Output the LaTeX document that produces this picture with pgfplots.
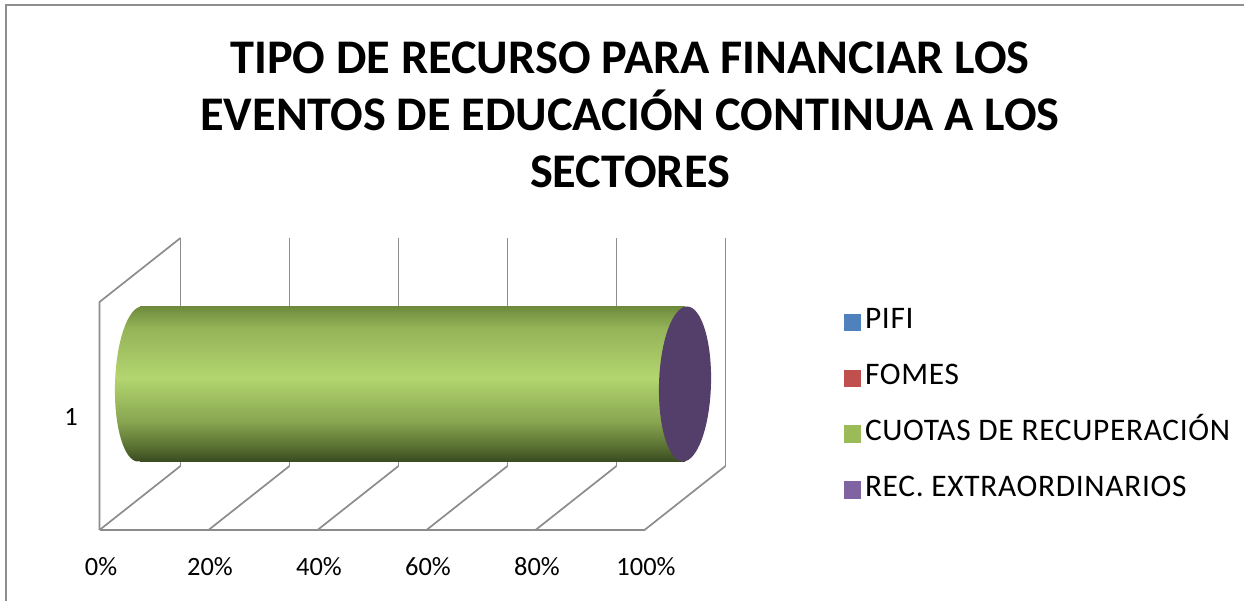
\documentclass[border=0pt]{standalone}
\usepackage{pgfplots}
\pgfplotsset{compat=1.18}
\usepackage{fontspec}
\setmainfont{Carlito}
\definecolor{pifi}{HTML}{4F81BD}
\definecolor{fomes}{HTML}{C0504D}
\definecolor{cuotas}{HTML}{9BBB59}
\definecolor{rec}{HTML}{8064A2}
\definecolor{recdark}{HTML}{543F6B}
\definecolor{gridc}{HTML}{8C8C8C}
\definecolor{frame}{HTML}{8E8E8E}
\definecolor{c0}{HTML}{3A4A21}
\definecolor{c1}{HTML}{5A7232}
\definecolor{c2}{HTML}{88A651}
\definecolor{c3}{HTML}{B3D56F}
\definecolor{c4}{HTML}{95B358}
\definecolor{c5}{HTML}{6E8B3D}
\pgfdeclareverticalshading{cyl}{100bp}{color(0bp)=(c0); color(25bp)=(c0); color(30bp)=(c1); color(38bp)=(c2); color(52bp)=(c3); color(68bp)=(c4); color(75bp)=(c5); color(100bp)=(c5)}
\pgfdeclareplotmark{leftcap}{%
  \pgfpathellipse{\pgfpointorigin}{\pgfqpoint{25bp}{0bp}}{\pgfqpoint{2bp}{77.5bp}}%
  \pgfshadepath{cyl}{0}%
  \pgfusepath{discard}}
\pgfdeclareplotmark{reccap}{%
  \pgfpathellipse{\pgfpointorigin}{\pgfqpoint{26bp}{0bp}}{\pgfqpoint{2bp}{77.5bp}}%
  \pgfsetfillcolor{recdark}%
  \pgfusepath{fill}}
\newcommand{\legsq}[1]{\pgfpathrectangle{\pgfqpoint{0bp}{-8.75bp}}{\pgfqpoint{17.5bp}{17.5bp}}\pgfsetfillcolor{#1}\pgfusepath{fill}}
\begin{document}
\begin{tikzpicture}
\useasboundingbox (0,0) rectangle (1244bp,601bp);
\draw[color=frame, line width=2bp] (6bp,-20bp) -- (6bp,596bp) -- (1270bp,596bp);
\node[font=\bfseries\fontsize{48.5}{57}\selectfont, align=center] at (630bp,486bp) {TIPO DE RECURSO PARA FINANCIAR LOS\\EVENTOS DE EDUCACIÓN CONTINUA A LOS\\SECTORES};
% 3-D frame (walls and floor) behind the axis plane
\foreach \k in {0,...,5}{
  \draw[gridc, line width=1.7bp] ({180.5bp+109bp*\k},135bp) -- ({180.5bp+109bp*\k},363bp);
  \draw[gridc, line width=1.7bp] ({99.5bp+109bp*\k},71bp) -- ({180.5bp+109bp*\k},135bp);
}
\draw[gridc, line width=1.7bp] (99.5bp,71bp) -- (644.5bp,71bp);
\draw[gridc, line width=1.7bp] (99.5bp,71bp) -- (99.5bp,299bp) -- (180.5bp,363bp);
\begin{axis}[
  at={(140bp,103bp)}, anchor=south west,
  scale only axis, width=545bp, height=228bp,
  xmin=0, xmax=100, ymin=0.5, ymax=1.5,
  stack plots=x, bar width=155bp,
  clip=false,
  axis line style={draw=none},
  major tick length=0pt,
  xtick={0,20,40,60,80,100},
  xticklabels={0\%,20\%,40\%,60\%,80\%,100\%},
  ytick={1}, yticklabels={1},
  ticklabel style={font=\fontsize{26.5}{31}\selectfont},
  xticklabel style={anchor=center, xshift=-39bp, yshift=-69bp},
  yticklabel style={anchor=center, xshift=-69bp, yshift=-33bp},
  legend style={at={(1.285,0.852)}, anchor=north west, draw=none, fill=none,
    font=\fontsize{31.5}{38}\selectfont\addfontfeature{LetterSpace=2.2}, row sep=22.9bp,
    nodes={text height=19bp, text depth=6bp, inner sep=4bp}},
  legend cell align=left,
]
% hidden left end of the cylinder (start of the stack, x = 0)
\addplot[forget plot, only marks, mark=leftcap] coordinates {(0,1)};
% PIFI
\addplot[xbar, fill=pifi, draw=none, legend image code/.code={\legsq{pifi}}] coordinates {(0,1)};
% FOMES
\addplot[xbar, fill=fomes, draw=none, legend image code/.code={\legsq{fomes}}] coordinates {(0,1)};
% CUOTAS DE RECUPERACION
\addplot[xbar, draw=none, shading=cyl, legend image code/.code={\legsq{cuotas}}] coordinates {(100,1)};
% REC. EXTRAORDINARIOS (end cap of the stack)
\addplot[only marks, mark=reccap, legend image code/.code={\legsq{rec}}] coordinates {(0,1)};
\legend{PIFI,FOMES,CUOTAS DE RECUPERACIÓN,REC. EXTRAORDINARIOS}
\end{axis}
\end{tikzpicture}
\end{document}
